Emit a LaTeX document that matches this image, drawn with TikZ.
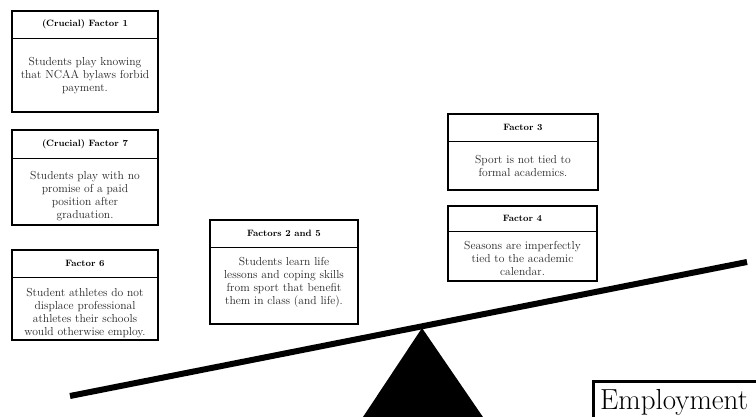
\documentclass[tikz,border=0pt]{standalone}
\begin{document}
\begin{tikzpicture}[x=1pt,y=-1pt,
  fbox/.style={draw=black, line width=1.6pt, rectangle, inner sep=0pt},
  ftitle/.style={font=\bfseries\fontsize{9.2}{11}\selectfont, inner sep=0pt},
  fbody/.style={font=\fontsize{11.6}{13}\selectfont, align=center, text=black!85, inner sep=0pt},
  divider/.style={line width=0.9pt},
  beam/.style={line width=6pt},
  empbox/.style={draw=black, line width=3pt, rectangle, inner sep=0pt},
  emptext/.style={font=\fontsize{29}{32}\selectfont, inner sep=0pt}]
\useasboundingbox (0,0) rectangle (756,417);
\clip (0,0) rectangle (756,417);
\newcommand\fbx[9]{%
  \node[fbox, minimum width={(#4-#2)*1pt}, minimum height={(#5-#3)*1pt}] (#1) at ({(#2+#4)/2},{(#3+#5)/2}) {};
  \coordinate (#1l) at (#2,#6);
  \coordinate (#1r) at (#4,#6);
  \draw[divider] (#1l) -- (#1r);
  \node[ftitle] (#1t) at ({(#2+#4)/2},{(#3+#6)/2}) {#7};
  \node[fbody] (#1b) at ({(#2+#4)/2},{(#6+#5)/2+#9}) {#8};
}
\fbx{fa}{12}{11}{158}{112}{38}{(Crucial) Factor 1}{Students play knowing\\that NCAA bylaws forbid\\payment.}{1}
\fbx{fg}{12}{130}{158}{225}{158}{(Crucial) Factor 7}{Students play with no\\promise of a paid\\position after\\graduation.}{4.5}
\fbx{ff}{12}{250}{158}{340}{277}{Factor 6}{Student athletes do not\\displace professional\\athletes their schools\\would otherwise employ.}{5}
\fbx{fb}{210}{220}{358}{324}{247}{Factors 2 and 5}{Students learn life\\lessons and coping skills\\from sport that benefit\\them in class (and life).}{-3}
\fbx{fc}{448}{114}{598}{190}{141}{Factor 3}{Sport is not tied to\\formal academics.}{0.5}
\fbx{fd}{448}{206}{597}{281}{231}{Factor 4}{Seasons are imperfectly\\tied to the academic\\calendar.}{2}
% seesaw
\coordinate (bl) at (70,396);
\coordinate (br) at (747,262);
\draw[beam] (bl) -- (br);
\coordinate (apex) at (422,328);
\coordinate (basel) at (361,420);
\coordinate (baser) at (485,420);
\fill[black] (apex) -- (basel) -- (baser) -- cycle;
% employment
\node[empbox, anchor=north west, minimum width=220pt, minimum height=80pt] (emp) at (592,380) {};
\node[emptext, anchor=base west] (empt) at (600,409) {Employment};
\end{tikzpicture}
\end{document}
